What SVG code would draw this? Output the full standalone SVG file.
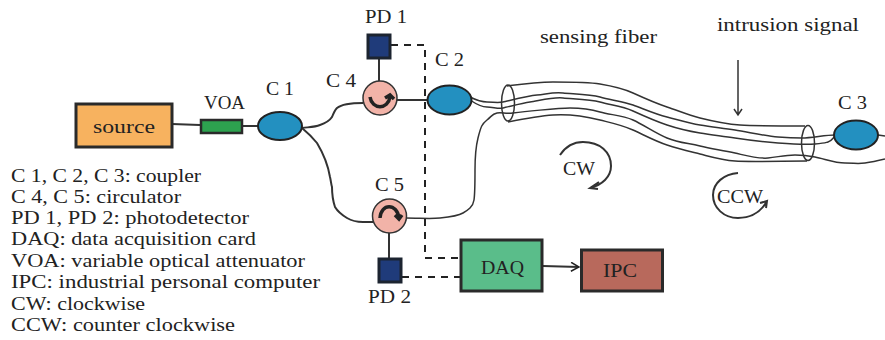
<svg xmlns="http://www.w3.org/2000/svg" width="885" height="340" viewBox="0 0 885 340">
<defs>
<style>
text{font-family:"Liberation Serif","DejaVu Serif",serif;fill:#222;font-size:19.500px}
.f{fill:none;stroke:#333;stroke-width:1.500}
.t{fill:none;stroke:#333;stroke-width:2}
.d{fill:none;stroke:#222;stroke-width:2;stroke-dasharray:7 6}
.cp{fill:#2390c0;stroke:#222;stroke-width:2}
.ci{fill:#f2b3a8;stroke:#333;stroke-width:1.500}
.pd{fill:#1f3b7a;stroke:#1c2430;stroke-width:3}
.b{stroke:#2a2a2a;stroke-width:3}
.ar{fill:none;stroke:#222;stroke-width:3.500}
</style>
<marker id="a" viewBox="0 0 10 10" refX="9" refY="5" markerWidth="10" markerHeight="10" markerUnits="userSpaceOnUse" orient="auto"><path d="M1 0.5L9 5L1 9.500" fill="none" stroke="#222" stroke-width="1.500"/></marker>
</defs>
<rect width="885" height="340" fill="#fff"/>
<g id="connectors">
<path class="t" d="M172 124L200 125M242 126L258 126"/>
<path class="t" d="M302 128C310 127 315 127 320 125C326 123 330 120 332 117C334 112 335 110 337 108C342 104 350 103 363 103"/>
<path class="t" d="M302 128C308 133 313 138 317 143C323 153 328 165 330 177C331 181 331 184 332 187C332 195 333 201 335 207C338 212 342 215 347 218C352 221 358 222 363 222L373 222"/>
<path class="t" d="M379 58L379 81M397 100L427 100M389 233L389 258"/>
<path class="f" d="M507 86C522 84 538 82 553 82S588 82 600 84S622 88 633 93S655 103 667 107S688 115 700 118S725 124 740 125S785 126 805 126"/>
<path class="f" d="M470 97C476 100 481 102 487 102S498 103 503 102S527 96 537 95S553 92 563 93S590 94 600 97S622 101 633 105S655 114 667 117S688 123 700 125S722 128 735 130S765 136 778 137S792 138 802 138S825 135 835 135"/>
<path class="f" d="M470 100C476 104 481 107 487 107S498 109 503 108S522 103 530 102S552 97 563 98S590 99 600 102S622 106 633 111S655 121 667 125S688 131 700 133S722 136 735 138S765 142 778 143S805 145 815 144S824 143 828 142S832 139 835 136"/>
<path class="f" d="M406 218C420 218 430 219 440 218S458 216 463 213S473 207 474 200S475 180 475 170S475 150 478 138S482 124 487 120S492 114 497 113S505 114 513 113S558 108 570 108S590 109 600 112S622 115 633 120S655 133 667 138S688 143 700 146S722 150 735 153S758 159 768 158S785 155 795 155S805 155 815 157S835 163 845 163S857 164 865 163S877 161 885 159"/>
<path class="f" d="M508 122C523 119 538 116 553 115S588 117 600 120S622 125 633 130S655 141 667 145S688 151 700 154S722 160 735 161S785 161 807 161"/>
<ellipse class="f" cx="508" cy="103" rx="6.500" ry="18"/>
<ellipse class="f" cx="808" cy="143" rx="6.500" ry="17.500"/>
<path class="f" d="M878 135L885 136"/>
<path class="f" d="M738 60L738 115M734 109L738 115L742 109"/>
<path class="d" d="M391 45L425 45L425 258L460 258"/>
<path class="d" d="M402 277L460 277"/>
<path class="t" d="M543 266L579 267" marker-end="url(#a)"/>
<path class="t" d="M560 155C566 146 574 142 583 142C600 142 611 152 611 166C611 177 602 185 590 188M599 182L590 188L598 189"/>
<path class="t" d="M738 173C724 174 713 183 713 195C713 208 724 218 738 218C751 218 761 212 767 201M760 203L767 201L766 208"/>
</g>
<g id="source"><rect class="b" x="76" y="104" width="96" height="43" fill="#f7b25f"/><text x="93" y="133" textLength="62" lengthAdjust="spacingAndGlyphs">source</text></g>
<g id="voa"><rect x="201" y="120" width="41" height="13" fill="#2da24f" stroke="#2a2a2a" stroke-width="2.500"/><text x="204" y="109" textLength="41" lengthAdjust="spacingAndGlyphs">VOA</text></g>
<g id="c1"><ellipse class="cp" cx="280" cy="126" rx="22" ry="14"/><text x="266" y="95" textLength="28" lengthAdjust="spacingAndGlyphs">C 1</text></g>
<g id="c2"><ellipse class="cp" cx="449.500" cy="100" rx="22" ry="14.500"/><text x="435" y="66" textLength="29" lengthAdjust="spacingAndGlyphs">C 2</text></g>
<g id="c3"><ellipse class="cp" cx="856" cy="135" rx="22" ry="14.500"/><text x="838" y="109" textLength="29" lengthAdjust="spacingAndGlyphs">C 3</text></g>
<g id="c4"><circle class="ci" cx="380" cy="98" r="17"/><path class="ar" d="M370 97C372 110 388 110 390 97M385 98L390 95L394 99"/><text x="326" y="87" textLength="30" lengthAdjust="spacingAndGlyphs">C 4</text></g>
<g id="c5"><circle class="ci" cx="389.500" cy="216" r="17"/><path class="ar" d="M380 218C381 203 397 203 399 218M395 215L399 219L402 215"/><text x="375" y="191" textLength="29" lengthAdjust="spacingAndGlyphs">C 5</text></g>
<g id="pd1"><rect class="pd" x="368" y="35" width="22" height="23"/><text x="365" y="23" textLength="42" lengthAdjust="spacingAndGlyphs">PD 1</text></g>
<g id="pd2"><rect class="pd" x="379" y="259" width="22" height="23"/><text x="368" y="303" textLength="43" lengthAdjust="spacingAndGlyphs">PD 2</text></g>
<g id="daq"><rect class="b" x="461" y="240" width="81" height="51" fill="#5abd8a"/><text x="481" y="274" textLength="43" lengthAdjust="spacingAndGlyphs">DAQ</text></g>
<g id="ipc"><rect class="b" x="581.500" y="250" width="81" height="41" fill="#b8695c"/><text x="603" y="277" textLength="34" lengthAdjust="spacingAndGlyphs">IPC</text></g>
<g id="labels">
<text x="540" y="43" textLength="117" lengthAdjust="spacingAndGlyphs">sensing fiber</text>
<text x="717" y="31" textLength="142" lengthAdjust="spacingAndGlyphs">intrusion signal</text>
<text x="563" y="175" textLength="32" lengthAdjust="spacingAndGlyphs">CW</text>
<text x="717" y="203" textLength="46" lengthAdjust="spacingAndGlyphs">CCW</text>
<text x="11" y="182" textLength="190" lengthAdjust="spacingAndGlyphs">C 1, C 2, C 3: coupler</text>
<text x="11" y="203" textLength="170" lengthAdjust="spacingAndGlyphs">C 4, C 5: circulator</text>
<text x="11" y="224" textLength="238" lengthAdjust="spacingAndGlyphs">PD 1, PD 2: photodetector</text>
<text x="11" y="245" textLength="245" lengthAdjust="spacingAndGlyphs">DAQ: data acquisition card</text>
<text x="11" y="267" textLength="294" lengthAdjust="spacingAndGlyphs">VOA: variable optical attenuator</text>
<text x="11" y="288" textLength="309" lengthAdjust="spacingAndGlyphs">IPC: industrial personal computer</text>
<text x="11" y="310" textLength="134" lengthAdjust="spacingAndGlyphs">CW: clockwise</text>
<text x="11" y="331" textLength="224" lengthAdjust="spacingAndGlyphs">CCW: counter clockwise</text>
</g>
</svg>
